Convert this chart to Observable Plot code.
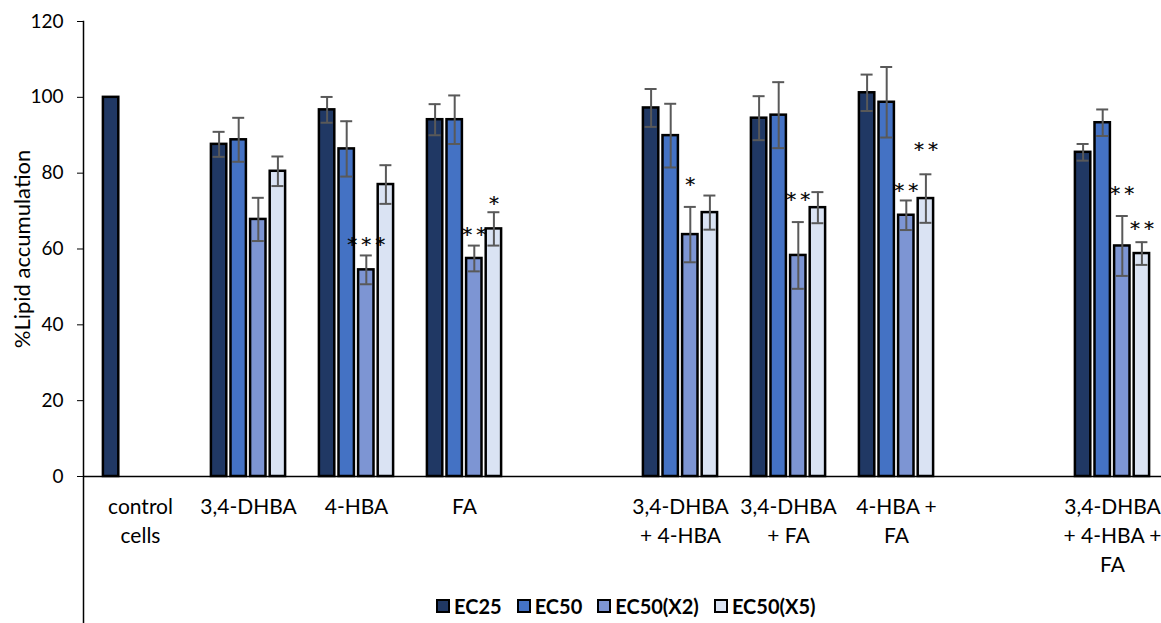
<!DOCTYPE html>
<html><head><meta charset="utf-8">
<script src="https://cdn.jsdelivr.net/npm/d3@7"></script>
<script src="https://cdn.jsdelivr.net/npm/@observablehq/plot@0.6"></script>
<style>
html,body{margin:0;padding:0;background:#fff;overflow:hidden;}
#wrap{position:relative;width:1161px;height:623px;overflow:hidden;}
#legend{position:absolute;left:436px;top:594px;display:flex;align-items:center;font-family:Lato,"Open Sans",sans-serif;font-weight:bold;font-size:20px;color:#000;}
#legend .it{display:flex;align-items:center;margin-right:15px;}
#legend .sw{width:10px;height:10px;border:2px solid #000;margin-right:4px;box-sizing:content-box;}
</style></head>
<body><div id="wrap"></div>
<script>
// ---- data ----
const groups = ["control cells","3,4-DHBA","4-HBA","FA","(gap 1)","3,4-DHBA + 4-HBA","3,4-DHBA + FA","4-HBA + FA","(gap 2)","3,4-DHBA + 4-HBA + FA"];
const groupLabels = ["control\ncells","3,4-DHBA","4-HBA","FA","","3,4-DHBA\n+ 4-HBA","3,4-DHBA\n+ FA","4-HBA +\nFA","","3,4-DHBA\n+ 4-HBA +\nFA"];
const treatments = ["control cells","3,4-DHBA","4-HBA","FA","3,4-DHBA + 4-HBA","3,4-DHBA + FA","4-HBA + FA","3,4-DHBA + 4-HBA + FA"];
const seriesNames = ["EC25","EC50","EC50(X2)","EC50(X5)"];
const ec25     = [100, 87.6, 96.7, 94.1, 97.2, 94.5, 101.2, 85.5];
const ec25Err  = [null, 3.3, 3.4, 4.1, 5.0, 5.8, 4.8, 2.2];
const ec50     = [null, 88.8, 86.4, 94.1, 89.9, 95.3, 98.7, 93.3];
const ec50Err  = [null, 5.8, 7.3, 6.4, 8.4, 8.7, 9.3, 3.5];
const ec50x2    = [null, 67.8, 54.5, 57.5, 63.8, 58.3, 68.9, 60.8];
const ec50x2Err = [null, 5.7, 3.8, 3.4, 7.3, 8.8, 3.9, 7.9];
const ec50x5    = [null, 80.5, 77.0, 65.3, 69.6, 70.9, 73.3, 58.8];
const ec50x5Err = [null, 3.9, 5.1, 4.4, 4.5, 4.1, 6.4, 3.0];
// significance marks and the value at which each is written
const ec50x2Stars  = ["", "", "***", "**", "*", "**", "**", "**"];
const ec50x2StarAt = [null, null, 62.4, 65.2, 78.4, 74.3, 76.6, 75.9];
const ec50x5Stars  = ["", "", "", "*", "", "", "**", "**"];
const ec50x5StarAt = [null, null, null, 73.4, null, null, 87.5, 66.7];
const yTicks = [0, 20, 40, 60, 80, 100, 120];

// ---- styles ----
const colors = ["#203864", "#4472C4", "#7D95D3", "#DAE3F3"];
const offsets = [-29.4, -9.8, 9.8, 29.4];

const values = [ec25, ec50, ec50x2, ec50x5];
const errs = [ec25Err, ec50Err, ec50x2Err, ec50x5Err];
const stars = [treatments.map(() => ""), treatments.map(() => ""), ec50x2Stars, ec50x5Stars];
const starAt = [treatments.map(() => null), treatments.map(() => null), ec50x2StarAt, ec50x5StarAt];

const rows = [];
treatments.forEach((g, i) => seriesNames.forEach((s, j) => {
  const v = values[j][i];
  if (v != null) rows.push({group: g, series: s, value: v, err: errs[j][i], star: stars[j][i], starY: starAt[j][i]});
}));

const barMarks = [], errMarks = [], starMarks = [];
seriesNames.forEach((s, j) => {
  const d = rows.filter(r => r.series === s);
  barMarks.push(Plot.barY(d, {x: "group", y: "value", fill: colors[j], stroke: "#000", strokeWidth: 2.5, insetLeft: 46.3, insetRight: 46.3, dx: offsets[j]}));
  const e = d.filter(r => r.err != null);
  errMarks.push(Plot.ruleX(e, {x: "group", y1: r => r.value - r.err, y2: r => r.value + r.err, stroke: "#595959", strokeWidth: 2, dx: offsets[j]}));
  errMarks.push(Plot.tickY(e, {x: "group", y: r => r.value + r.err, stroke: "#595959", strokeWidth: 2, insetLeft: 48, insetRight: 48, dx: offsets[j]}));
  errMarks.push(Plot.tickY(e, {x: "group", y: r => r.value - r.err, stroke: "#595959", strokeWidth: 2, insetLeft: 48, insetRight: 48, dx: offsets[j]}));
  const st = d.filter(r => r.star);
  starMarks.push(Plot.text(st, {x: "group", y: "starY", text: r => r.star.split("").join("\u2009"), dx: offsets[j], dy: 5, fontSize: 20, fontFamily: "DejaVu Sans", fill: "#000", stroke: "#000", strokeWidth: 0.2}));
});

const labelRows = groups.map((g, i) => ({g, label: groupLabels[i], base: 0}));

const chart = Plot.plot({
  width: 1161,
  height: 623,
  marginLeft: 83,
  marginRight: -8,
  marginTop: 21,
  marginBottom: 0,
  style: {fontFamily: "Lato, 'Open Sans', sans-serif", fontSize: "18px", color: "#000", background: "#fff"},
  x: {domain: groups, padding: 0, axis: null},
  y: {domain: [-38.77, 120], axis: null},
  marks: [
    ...barMarks,
    ...errMarks,
    ...starMarks,
    Plot.ruleY([0], {stroke: "#000", strokeWidth: 1.5}),
    Plot.frame({anchor: "left", stroke: "#000", strokeWidth: 1.5}),
    Plot.axisY({ticks: yTicks, tickSize: 6, tickPadding: 14, label: null, fontSize: 19, tickFormat: d => d}),
    Plot.text(labelRows, {x: "g", y: "base", text: "label", lineAnchor: "top", dy: 17, fontSize: 21, lineHeight: 1.38, fill: "#000"}),
    Plot.text([{t: "%Lipid accumulation", y: 60}], {text: "t", y: "y", frameAnchor: "left", textAnchor: "middle", dx: -61, rotate: -90, fontSize: 22, fill: "#000"})
  ]
});
const wrap = document.getElementById("wrap");
wrap.appendChild(chart);

const legend = document.createElement("div");
legend.id = "legend";
seriesNames.forEach((s, j) => {
  const it = document.createElement("div");
  it.className = "it";
  const sw = document.createElement("div");
  sw.className = "sw";
  sw.style.background = colors[j];
  const tx = document.createElement("span");
  tx.textContent = s;
  it.appendChild(sw); it.appendChild(tx);
  legend.appendChild(it);
});
wrap.appendChild(legend);
</script>
</body></html>
